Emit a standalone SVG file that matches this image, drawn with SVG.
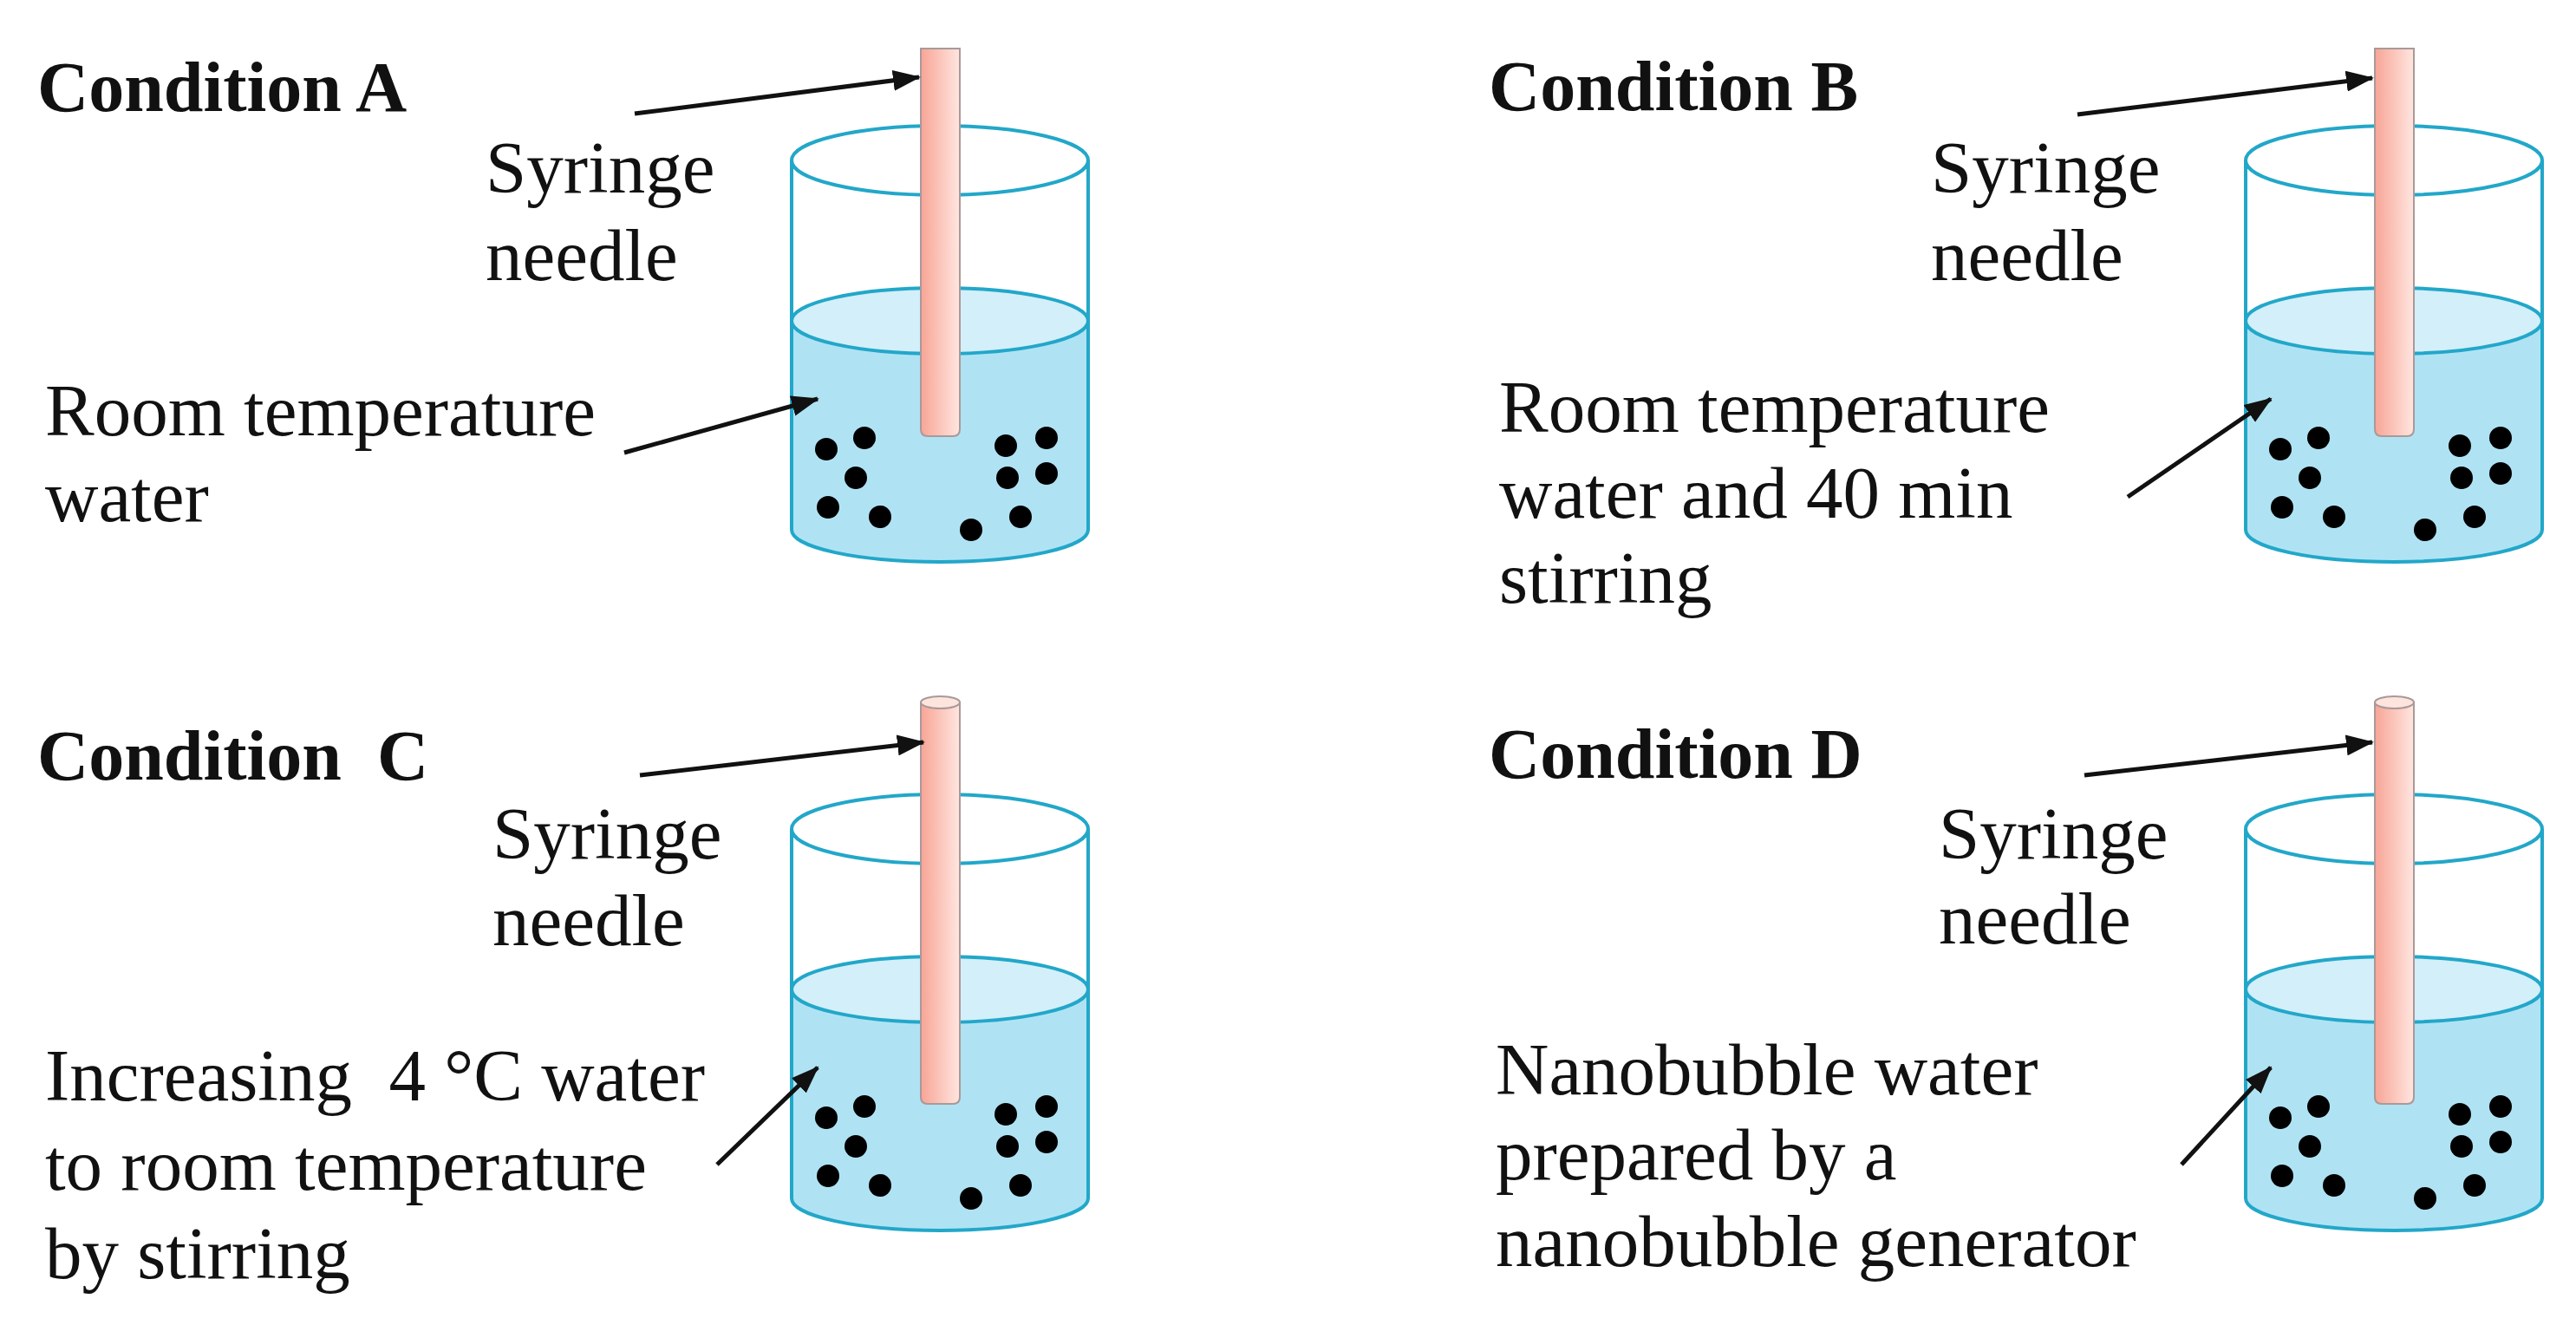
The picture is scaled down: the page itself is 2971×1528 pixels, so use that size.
<svg xmlns="http://www.w3.org/2000/svg" xmlns:xlink="http://www.w3.org/1999/xlink" width="2971" height="1528" viewBox="0 0 2971 1528">
<style>
.t{font-family:"Liberation Serif","Times New Roman",serif;font-size:85px;fill:#111;white-space:pre}
.b{font-family:"Liberation Serif","Times New Roman",serif;font-size:82px;font-weight:bold;fill:#111;white-space:pre}
.bk{fill:none;stroke:#22a7c9;stroke-width:4}
.wat{fill:#afe3f4}
.wtop{fill:#d3eff9;stroke:#22a7c9;stroke-width:4}
.ndl{fill:url(#ng);stroke:#a99;stroke-width:2}
.arr{stroke:#111;stroke-width:5;fill:none;marker-end:url(#ah)}
</style>
<defs>
<linearGradient id="ng" x1="0" x2="1" y1="0" y2="0">
<stop offset="0" stop-color="#f7a596"/><stop offset="1" stop-color="#ffe6e0"/>
</linearGradient>
<marker id="ah" markerUnits="userSpaceOnUse" markerWidth="34" markerHeight="24" refX="30" refY="12" orient="auto">
<path d="M0,0 L32,12 L0,24 Z" fill="#111"/>
</marker>
<g id="beaker">
<path class="wat" d="M913,370 L913,611 A171,37 0 0 0 1255,611 L1255,370 Z"/>
<ellipse class="wtop" cx="1084" cy="370" rx="171" ry="38"/>
<ellipse class="bk" cx="1084" cy="185" rx="171" ry="40"/>
<path class="bk" d="M913,185 L913,611 A171,37 0 0 0 1255,611 L1255,185"/>
<g fill="#000">
<circle cx="953" cy="518" r="13"/><circle cx="997" cy="505" r="13"/><circle cx="987" cy="551" r="13"/>
<circle cx="955" cy="585" r="13"/><circle cx="1015" cy="596" r="13"/><circle cx="1160" cy="514" r="13"/>
<circle cx="1207" cy="505" r="13"/><circle cx="1162" cy="551" r="13"/><circle cx="1207" cy="546" r="13"/>
<circle cx="1177" cy="596" r="13"/><circle cx="1120" cy="611" r="13"/>
</g>
</g>
<path id="needleA" class="ndl" d="M1062,56 L1107,56 L1107,495 Q1107,503 1099,503 L1070,503 Q1062,503 1062,495 Z"/>
<g id="needleC">
<path class="ndl" d="M1062,810 L1107,810 L1107,1265 Q1107,1273 1099,1273 L1070,1273 Q1062,1273 1062,1265 Z"/>
<ellipse cx="1084.5" cy="810" rx="22.5" ry="7" fill="#fde4dd" stroke="#a99" stroke-width="2"/>
</g>
</defs>

<g id="nodeA">
<use xlink:href="#beaker"/>
<use xlink:href="#needleA"/>
<text class="b" x="43" y="128">Condition A</text>
<text class="t" x="560" y="222">Syringe</text>
<text class="t" x="560" y="323">needle</text>
<text class="t" x="52" y="502">Room temperature</text>
<text class="t" x="52" y="601">water</text>
</g>
<g id="nodeB">
<use xlink:href="#beaker" transform="translate(1677,0)"/>
<use xlink:href="#needleA" transform="translate(1677,0)"/>
<text class="b" x="1717" y="127">Condition B</text>
<text class="t" x="2227" y="222">Syringe</text>
<text class="t" x="2227" y="323">needle</text>
<text class="t" x="1729" y="498">Room temperature</text>
<text class="t" x="1729" y="597">water and 40 min</text>
<text class="t" x="1729" y="695">stirring</text>
</g>
<g id="nodeC">
<use xlink:href="#beaker" transform="translate(0,771)"/>
<use xlink:href="#needleC"/>
<text class="b" x="43" y="899">Condition  C</text>
<text class="t" x="568" y="990">Syringe</text>
<text class="t" x="568" y="1090">needle</text>
<text class="t" x="52" y="1269">Increasing  4 °C water</text>
<text class="t" x="52" y="1372">to room temperature</text>
<text class="t" x="52" y="1474">by stirring</text>
</g>
<g id="nodeD">
<use xlink:href="#beaker" transform="translate(1677,771)"/>
<use xlink:href="#needleC" transform="translate(1677,0)"/>
<text class="b" x="1717" y="897">Condition D</text>
<text class="t" x="2236" y="990">Syringe</text>
<text class="t" x="2236" y="1088">needle</text>
<text class="t" x="1725" y="1262">Nanobubble water</text>
<text class="t" x="1725" y="1360">prepared by a</text>
<text class="t" x="1725" y="1460">nanobubble generator</text>
</g>
<g id="connectors">
<line class="arr" x1="732" y1="131" x2="1060" y2="89"/>
<line class="arr" x1="720" y1="522" x2="943" y2="460"/>
<line class="arr" x1="2396" y1="132" x2="2736" y2="90"/>
<line class="arr" x1="2454" y1="573" x2="2619" y2="460"/>
<line class="arr" x1="738" y1="894" x2="1065" y2="856"/>
<line class="arr" x1="827" y1="1343" x2="943" y2="1231"/>
<line class="arr" x1="2404" y1="894" x2="2736" y2="856"/>
<line class="arr" x1="2516" y1="1343" x2="2619" y2="1231"/>
</g>
</svg>
